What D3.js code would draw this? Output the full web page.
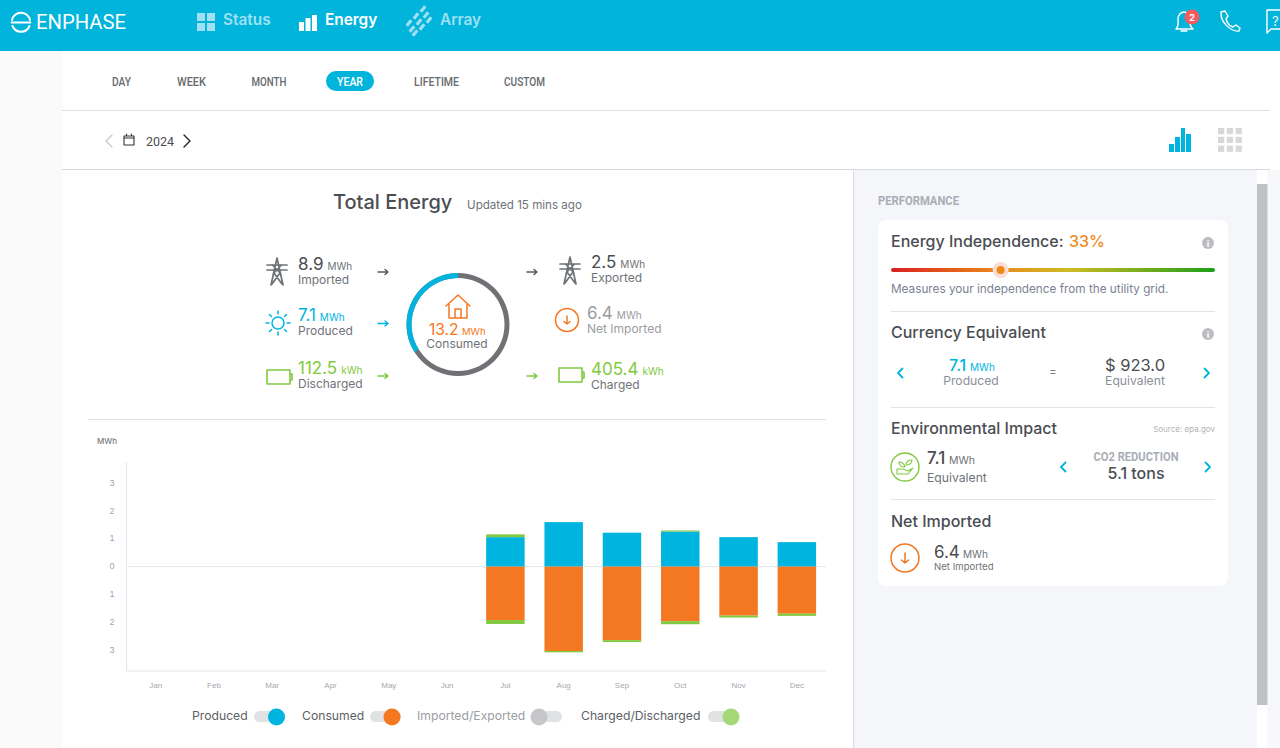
<!DOCTYPE html>
<html>
<head>
<meta charset="utf-8">
<script src="https://cdn.jsdelivr.net/npm/d3@7"></script>
<style>
html,body{margin:0;padding:0;background:#fff;overflow:hidden}
svg{display:block}
text{font-family:Inter,"Noto Sans",sans-serif}
.narrow{font-family:Roboto,sans-serif}
.tick text{font-family:"Liberation Sans",sans-serif}
</style>
</head>
<body>
<div id="page"></div>
<script>
// chart values, MWh per month (zero until the system came online in July)
var months = ['Jan','Feb','Mar','Apr','May','Jun','Jul','Aug','Sep','Oct','Nov','Dec']
var produced = [0,0,0,0,0,0,1.06,1.6,1.22,1.26,1.06,0.88]
var discharged = [0,0,0,0,0,0,0.1,0,0,0.04,0,0]
var consumed = [0,0,0,0,0,0,1.92,3.03,2.64,1.96,1.76,1.69]
var charged = [0,0,0,0,0,0,0.14,0.05,0.07,0.11,0.07,0.08]
var yTicks = [-3,-2,-1,0,1,2,3]

var independence = 0.33
var tabs = ['DAY','WEEK','MONTH','YEAR','LIFETIME','CUSTOM']
var tabCentres = [121.5,191.5,269,350,436.5,524.5]
var tabWidths = [19,29,35,26,45,41]

var blue = '#00b4e0', orange = '#f47721', green = '#82c940', dark = '#4a4d52', grey = '#6f7378'

var svg = d3.select('#page').append('svg').attr('width',1280).attr('height',748)
var defs = svg.append('defs')

function rect(x,y,w,h,fill,r) {
 return svg.append('rect').attr('x',x).attr('y',y).attr('width',w).attr('height',h).attr('fill',fill).attr('rx',r||0)
}
function label(x,y,str,size,fill,anchor,weight) {
 return svg.append('text').attr('x',x).attr('y',y).text(str)
 .attr('font-size',size).attr('fill',fill)
 .attr('text-anchor',anchor||'start').attr('font-weight',weight||400)
}
// no condensed face is installed, so squeeze Roboto to the measured width
function narrow(sel,w) {
 return sel.attr('class','narrow').attr('textLength',w).attr('lengthAdjust','spacingAndGlyphs')
}
function icon(x,y,d,color,width) {
 return svg.append('path').attr('transform','translate(' + x + ',' + y + ')').attr('d',d)
 .attr('fill','none').attr('stroke',color).attr('stroke-width',width||1.6)
 .attr('stroke-linecap','round').attr('stroke-linejoin','round')
}

// page background
rect(0,0,1280,748,'#ffffff')
rect(0,51,62,697,'#fafafa')
rect(853,170,404,578,'#f4f6fa')
rect(1267,170,13,578,'#f7f8fa')
rect(1257,184,10.5,521,'#c0c1c3')
rect(62,110,1208,1,'#dfe0e2')
rect(62,169,1208,1,'#d8d9db')
rect(853,170,1,578,'#dcdde0')

// header
rect(0,0,1280,51,'#00b4dc')
icon(21,22,'M-9,-2 A9.2,9.2 0 0,1 9,-2 M-9.4,0.5 H9.4 M-8.5,4 A9.2,9.2 0 0,0 8.5,4','#fff',2)
narrow(label(36,29,'ENPHASE',20,'#fff'),90)

var navLight = '#9fe1f2'
rect(197,13,8,8,navLight); rect(207,13,8,8,navLight); rect(197,23,8,8,navLight); rect(207,23,8,8,navLight)
label(223,25,'Status',15.4,navLight,'start',600)
rect(299,22,5,9,'#fff'); rect(305.5,18,5,13,'#fff'); rect(312,15,5,16,'#fff')
label(325,25,'Energy',15.4,'#fff','start',600)
;[[412,29],[419,22],[426,15],[409,23],[416,16],[423,9],[415,33],[422,27],[429,20]].forEach(function (p) {
 svg.append('rect').attr('x',p[0]-3.5).attr('y',p[1]-1.6).attr('width',7).attr('height',3.2).attr('fill',navLight)
 .attr('transform','rotate(-50 ' + p[0] + ' ' + p[1] + ')')
})
label(440,25,'Array',15.4,navLight,'start',600)

icon(1184,21,'M-8,8 C-5,5 -6,2 -6,-2 C-6,-6 -3,-9 0,-9 C3,-9 6,-6 6,-2 C6,2 5,5 9,8 Z M-3,10 H3','#fff',1.5)
svg.append('circle').attr('cx',1192).attr('cy',17).attr('r',7.5).attr('fill','#f45b5f')
label(1192,20.5,'2',9,'#fff','middle',700)
icon(1230,21,'M-9,-9 L-5,-10 L-2,-5 L-4,-2 C-3,2 0,5 3,6 L6,4 L10,7 L9,10 C1,11 -10,1 -9,-9 Z','#fff',1.4)
icon(1268,10,'M0,0 H14 V19 H3 L-1,23 V0 Z','#fff',1.4)
label(1272,26,'?',13,'#fff')

// range tabs
rect(326,71,48,20,'#00b4dc',10)
tabs.forEach(function (t,i) {
 narrow(label(tabCentres[i],86,t,13,t == 'YEAR' ? '#fff' : '#666a6e','middle',500),tabWidths[i])
})

// date row
icon(109,141,'M3,-6 L-3,0 L3,6','#c6c8ca',1.2)
icon(129,140,'M-5,-4 H5 V5 H-5 Z M-5,-2 H5 M-2.5,-6 V-4 M2.5,-6 V-4','#333',1.1)
narrow(label(146,146,'2024',13,'#4a4d52','start',400),28)
icon(187,141,'M-3,-6 L3,0 L-3,6','#222',1.4)
rect(1169,144,5,8,blue); rect(1175,137,5,15,blue); rect(1181,128,4,24,blue); rect(1186,134,5,18,blue)
d3.range(3).forEach(function (r) {
 d3.range(3).forEach(function (c) {
 rect(1218 + c*8.8,128 + r*8.8,6.2,6.2,'#d8d8d8')
 })
})

// total energy block
label(333,209,'Total Energy',20,dark,'start',500)
label(467,209,'Updated 15 mins ago',11.6,grey)

function stat(x,y,value,unit,name,color,nameColor) {
 var v = label(x,y,value,17,color)
 var w = v.node().getComputedTextLength()
 label(x + w + 4,y,unit,10,color == dark ? grey : color)
 label(x,y + 14,name,12,nameColor || grey)
}
var pylon = 'M0,-14 L-6,13 M0,-14 L6,13 M-10,-7 H10 M-10,-2 H10 M-4.5,-7 L4,2 M4.5,-7 L-4,2 M-3,1 L5,12 M3,1 L-5,12'
var battery = 'M-12,-7 H11 V7 H-12 Z M11,-3 H13 V3 H11'

icon(277,272,pylon,'#6f7276',1.7)
stat(298,270,'8.9','MWh','Imported',dark)
icon(278,323,'M0,-6 A6,6 0 1,1 0,6 A6,6 0 1,1 0,-6 M0,-12 V-9 M0,12 V9 M-12,0 H-9 M12,0 H9 M-8.5,-8.5 L-6.5,-6.5 M8.5,-8.5 L6.5,-6.5 M-8.5,8.5 L-6.5,6.5 M8.5,8.5 L6.5,6.5',blue,1.5)
stat(298,321,'7.1','MWh','Produced',blue)
icon(279,377,battery,green,1.6)
stat(298,374,'112.5','kWh','Discharged',green)

icon(570,271,pylon,'#6f7276',1.7)
stat(591,267.5,'2.5','MWh','Exported',dark)
svg.append('circle').attr('cx',567).attr('cy',320).attr('r',11.5).attr('fill','none').attr('stroke',orange).attr('stroke-width',1.5)
icon(567,320,'M0,-4 V4 M-3,1.5 L0,4 L3,1.5',orange,1.5)
stat(587,319,'6.4','MWh','Net Imported','#9a9da1','#9a9da1')
icon(571,375,battery,green,1.6)
stat(591,375,'405.4','kWh','Charged',green)

function arrow(x,y,color) {
 icon(x,y,'M0,0 H10 M7,-2.5 L10,0 L7,2.5',color,1.4)
}
arrow(378,272,'#55585c'); arrow(378,323.5,blue); arrow(378,376,green)
arrow(527,272,'#55585c'); arrow(527,376,green)

// consumption ring, blue part is the share covered by production
var ring = d3.arc().innerRadius(46.5).outerRadius(51.5)
var ringG = svg.append('g').attr('transform','translate(458,324.5)')
ringG.append('path').attr('d',ring({startAngle:0,endAngle:Math.PI*2})).attr('fill','#6f7175')
ringG.append('path').attr('d',ring({startAngle:-Math.PI*2*(independence+0.01),endAngle:0})).attr('fill',blue)
icon(458,306,'M-12,0 L0,-11 L12,0 M-9,-2 V12 H9 V-2 M-3,12 V3 H3 V12',orange,1.5)
label(429,335,'13.2',15.6,orange)
label(462,335,'MWh',9.5,orange)
label(457,348,'Consumed',12,grey,'middle')

rect(88,419,738,1,'#dfe0e2')

// bar chart
var x = d3.scaleBand().domain(months).range([126.5,826]).paddingInner(0.34).paddingOuter(0.17)
var y = d3.scaleLinear().domain([-3.75,3.76]).range([671,462])

label(97,444,'MWh',8,'#777b7f','start',500)

svg.append('line').attr('x1',126.5).attr('x2',126.5).attr('y1',462).attr('y2',671).attr('stroke','#e4e5e7')
svg.append('line').attr('x1',126.5).attr('x2',826).attr('y1',671).attr('y2',671).attr('stroke','#e4e5e7')
svg.append('line').attr('x1',128).attr('x2',826).attr('y1',y(0)).attr('y2',y(0)).attr('stroke','#e4e5e7')

var yAxis = d3.axisLeft(y).tickValues(yTicks).tickSize(0).tickPadding(12).tickFormat(function (d) { return Math.abs(d) })
var yG = svg.append('g').attr('transform','translate(126.5,-0.8)').call(yAxis)
yG.select('.domain').remove()
yG.selectAll('text').attr('font-size',9).attr('fill','#a3a5a8')

var xAxis = d3.axisBottom(x).tickSize(0).tickPadding(11)
var xG = svg.append('g').attr('transform','translate(0,671)').call(xAxis)
xG.select('.domain').remove()
xG.selectAll('text').attr('font-size',8).attr('fill','#a6a8ab')

// stacked bars, both stacks grow out of the zero line
var stacks = [
 {vals:produced, base:null, color:blue, up:true},
 {vals:discharged, base:produced, color:green, up:true},
 {vals:consumed, base:null, color:orange, up:false},
 {vals:charged, base:consumed, color:green, up:false}
]
stacks.forEach(function (s) {
 svg.append('g').selectAll('rect')
 .data(months)
 .enter()
 .append('rect')
 .attr('x',function (d) { return x(d) })
 .attr('width',x.bandwidth())
 .attr('y',function (d,i) {
 var b = s.base ? s.base[i] : 0
 return s.up ? y(b + s.vals[i]) : y(-b)
 })
 .attr('height',function (d,i) { return y(0) - y(s.vals[i]) })
 .attr('fill',s.color)
})

// legend toggles
function toggle(tx,text,textColor,trackX,knobX,knobColor) {
 label(tx,720,text,12.2,textColor)
 rect(trackX,711,31,11,'#e1e2e4',5.5)
 svg.append('circle').attr('cx',knobX).attr('cy',717).attr('r',8.5).attr('fill',knobColor)
}
toggle(192,'Produced','#5d6064',254,276.5,blue)
toggle(302,'Consumed','#5d6064',370,392,orange)
toggle(417,'Imported/Exported','#9a9da1',531,539,'#c6c7c9')
toggle(581,'Charged/Discharged','#5d6064',708,731,'#a5d877')

// performance panel
narrow(label(878,205,'PERFORMANCE',12.5,'#a9aeb5','start',700),81)
rect(878,220,350,366,'#ffffff',8)

function infoIcon(cx,cy) {
 svg.append('circle').attr('cx',cx).attr('cy',cy).attr('r',6).attr('fill','#bcbdc0')
 label(cx,cy + 3.5,'i',9,'#fff','middle',700)
}
var sliderGrad = defs.append('linearGradient').attr('id','slider')
sliderGrad.append('stop').attr('offset','0').attr('stop-color','#d9201f')
sliderGrad.append('stop').attr('offset','0.33').attr('stop-color','#ea8a1c')
sliderGrad.append('stop').attr('offset','0.55').attr('stop-color','#cdbb25')
sliderGrad.append('stop').attr('offset','1').attr('stop-color','#1f9e1a')

label(891,247,'Energy Independence:',16,dark,'start',500)
label(1069,247,d3.format('.0%')(independence),16,'#ee8a1c','start',500)
infoIcon(1208,243)
rect(891,268,324,4,'url(#slider)',2)
var slideX = d3.scaleLinear().domain([0,1]).range([895,1215])
svg.append('circle').attr('cx',slideX(independence)).attr('cy',270).attr('r',8).attr('fill','#fbdcd6')
svg.append('circle').attr('cx',slideX(independence)).attr('cy',270).attr('r',4).attr('fill','#ee8a10')
label(891,293,'Measures your independence from the utility grid.',11.75,'#7b8292')
rect(891,311,324,1,'#e3e4e6')

label(891,338,'Currency Equivalent',16,dark,'start',500)
infoIcon(1208,334)
function chevrons(lx,rx,cy) {
 icon(lx,cy,'M2.5,-4.5 L-2,0 L2.5,4.5',blue,1.8)
 icon(rx,cy,'M-2.5,-4.5 L2,0 L-2.5,4.5',blue,1.8)
}
chevrons(900,1207,373)
label(949,371,'7.1',16,blue,'start',500)
label(970,371,'MWh',10,blue)
label(971,385,'Produced',12.2,'#8b9096','middle')
label(1053,375,'=',11,'#7b7f84','middle')
label(1135,371,'$ 923.0',16.5,dark,'middle')
label(1135,385,'Equivalent',12.2,'#8b9096','middle')
rect(891,407,324,1,'#e3e4e6')

label(891,434,'Environmental Impact',16,dark,'start',500)
label(1215,432,'Source: epa.gov',8,'#b0b2b5','end')
svg.append('circle').attr('cx',905).attr('cy',467).attr('r',14).attr('fill','none').attr('stroke',green).attr('stroke-width',1.4)
icon(905,467,'M-8,2 H-2 L3,4 L8,1 L3,7 H-8 Z M0,0 C-1,-4 -3,-5 -6,-5 C-6,-2 -4,0 0,0 M1,-2 C1,-6 4,-7 7,-7 C7,-4 5,-2 1,-2',green,1.1)
label(927,464,'7.1',17,dark,'start',500)
label(949,464,'MWh',10.5,grey)
label(927,482,'Equivalent',12.2,grey)
chevrons(1063,1208,467)
narrow(label(1136,461,'CO2 REDUCTION',13.5,'#a9aeb5','middle',700),85)
label(1136,479,'5.1 tons',16,dark,'middle',500)
rect(891,499,324,1,'#e3e4e6')

label(891,527,'Net Imported',16,dark,'start',500)
svg.append('circle').attr('cx',905).attr('cy',558).attr('r',14).attr('fill','none').attr('stroke',orange).attr('stroke-width',1.5)
icon(905,558,'M0,-5 V5 M-3.5,2 L0,5 L3.5,2',orange,1.5)
label(934,558,'6.4',17,dark)
label(963,558,'MWh',10,grey)
label(934,569.5,'Net Imported',9.6,grey)
</script>
</body>
</html>
